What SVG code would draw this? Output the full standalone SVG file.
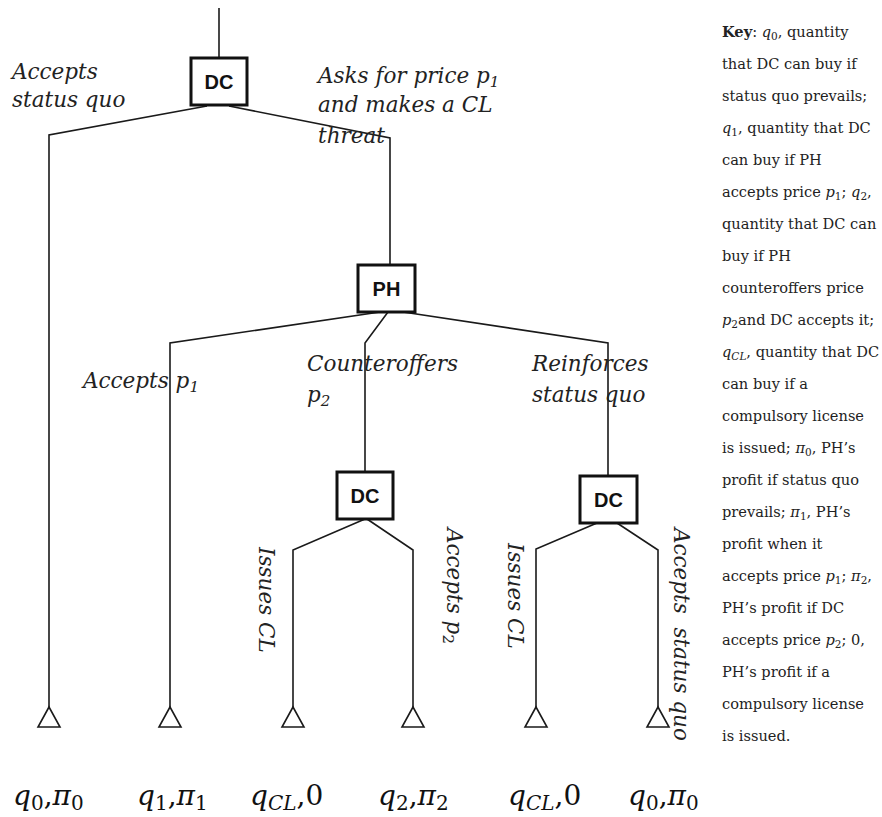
<svg xmlns="http://www.w3.org/2000/svg" width="882" height="817" viewBox="0 0 882 817">
<style>
.ln{fill:none;stroke:#1a1a1a;stroke-width:1.6;stroke-linejoin:miter}
.box{fill:#fff;stroke:#111;stroke-width:3}
.bl{font-family:"Liberation Sans",Arial,sans-serif;font-weight:bold;font-size:20px;fill:#111;text-anchor:middle}
.lab{font-family:"DejaVu Serif",serif;font-style:italic;font-size:21.5px;fill:#222}
.k{font-family:"DejaVu Serif",serif;font-size:14.6px;fill:#222}
.i{font-style:italic}
.s{font-size:10.5px}
.ls{font-size:15px}
.pay{font-family:"DejaVu Serif",serif;font-size:28px;fill:#111}
.ps{font-size:20px}
.tri{fill:#fff;stroke:#1a1a1a;stroke-width:1.6}
</style>
<g id="connectors">
<path class="ln" d="M219,8 V58"/>
<path class="ln" d="M207,106 L49,135 V707"/>
<path class="ln" d="M229,106 L390,138 V265"/>
<path class="ln" d="M380,312 L170,343 V707"/>
<path class="ln" d="M388,312 L365,343 V472"/>
<path class="ln" d="M403,312 L608,343 V475"/>
<path class="ln" d="M365,519 L293,550 V707"/>
<path class="ln" d="M367,519 L413,550 V707"/>
<path class="ln" d="M597,523 L536,549 V707"/>
<path class="ln" d="M617,523 L658,550 V707"/>
</g>
<g id="dc1"><rect class="box" x="191" y="58" width="56" height="47"/><text class="bl" x="219" y="89">DC</text></g>
<g id="ph"><rect class="box" x="358" y="265" width="57" height="47"/><text class="bl" x="386.5" y="296">PH</text></g>
<g id="dc2"><rect class="box" x="337" y="472" width="56" height="47"/><text class="bl" x="365" y="503">DC</text></g>
<g id="dc3"><rect class="box" x="580" y="476" width="57" height="47"/><text class="bl" x="608.5" y="507">DC</text></g>
<g id="leaves">
<polygon class="tri" points="49,707 38,727 60,727"/>
<polygon class="tri" points="170,707 159,727 181,727"/>
<polygon class="tri" points="293,707 282,727 304,727"/>
<polygon class="tri" points="413,707 402,727 424,727"/>
<polygon class="tri" points="536,707 525,727 547,727"/>
<polygon class="tri" points="658,707 647,727 669,727"/>
</g>
<g id="edge-labels" class="lab">
<text x="12" y="79">Accepts</text>
<text x="12" y="107">status quo</text>
<text x="318" y="83">Asks for price p<tspan class="ls" dy="4">1</tspan></text>
<text x="318" y="112">and makes a CL</text>
<text x="318" y="143">threat</text>
<text x="83" y="388">Accepts p<tspan class="ls" dy="4">1</tspan></text>
<text x="307" y="371">Counteroffers</text>
<text x="307" y="402">p<tspan class="ls" dy="4">2</tspan></text>
<text x="532" y="371">Reinforces</text>
<text x="532" y="402">status quo</text>
<text transform="translate(259,547) rotate(90)">Issues CL</text>
<text transform="translate(447,528) rotate(90)">Accepts p<tspan class="ls" dy="4" font-style="normal">2</tspan></text>
<text transform="translate(508,543) rotate(90)">Issues CL</text>
<text transform="translate(674,528) rotate(90)" xml:space="preserve">Accepts  status quo</text>
</g>
<g id="payoffs" class="pay">
<text x="13" y="805"><tspan class="i">q</tspan><tspan class="ps" dy="5">0</tspan><tspan dy="-5">,</tspan><tspan class="i">π</tspan><tspan class="ps" dy="5">0</tspan></text>
<text x="137" y="805"><tspan class="i">q</tspan><tspan class="ps" dy="5">1</tspan><tspan dy="-5">,</tspan><tspan class="i">π</tspan><tspan class="ps" dy="5">1</tspan></text>
<text x="250" y="805"><tspan class="i">q</tspan><tspan class="ps i" dy="5">CL</tspan><tspan dy="-5">,0</tspan></text>
<text x="378" y="805"><tspan class="i">q</tspan><tspan class="ps" dy="5">2</tspan><tspan dy="-5">,</tspan><tspan class="i">π</tspan><tspan class="ps" dy="5">2</tspan></text>
<text x="508" y="805"><tspan class="i">q</tspan><tspan class="ps i" dy="5">CL</tspan><tspan dy="-5">,0</tspan></text>
<text x="628" y="805"><tspan class="i">q</tspan><tspan class="ps" dy="5">0</tspan><tspan dy="-5">,</tspan><tspan class="i">π</tspan><tspan class="ps" dy="5">0</tspan></text>
</g>
<g id="key" class="k">
<text x="722" y="37"><tspan font-weight="bold">Key</tspan>: <tspan class="i">q</tspan><tspan class="s" dy="3">0</tspan><tspan dy="-3">, quantity</tspan></text>
<text x="722" y="69">that DC can buy if</text>
<text x="722" y="101">status quo prevails;</text>
<text x="722" y="133"><tspan class="i">q</tspan><tspan class="s" dy="3">1</tspan><tspan dy="-3">, quantity that DC</tspan></text>
<text x="722" y="165">can buy if PH</text>
<text x="722" y="197">accepts price <tspan class="i">p</tspan><tspan class="s" dy="3">1</tspan><tspan dy="-3">; </tspan><tspan class="i">q</tspan><tspan class="s" dy="3">2</tspan><tspan dy="-3">,</tspan></text>
<text x="722" y="229">quantity that DC can</text>
<text x="722" y="261">buy if PH</text>
<text x="722" y="293">counteroffers price</text>
<text x="722" y="325"><tspan class="i">p</tspan><tspan class="s" dy="3">2</tspan><tspan dy="-3">and DC accepts it;</tspan></text>
<text x="722" y="357"><tspan class="i">q</tspan><tspan class="s i" dy="3">CL</tspan><tspan dy="-3">, quantity that DC</tspan></text>
<text x="722" y="389">can buy if a</text>
<text x="722" y="421">compulsory license</text>
<text x="722" y="453">is issued; <tspan class="i">π</tspan><tspan class="s" dy="3">0</tspan><tspan dy="-3">, PH’s</tspan></text>
<text x="722" y="485">profit if status quo</text>
<text x="722" y="517">prevails; <tspan class="i">π</tspan><tspan class="s" dy="3">1</tspan><tspan dy="-3">, PH’s</tspan></text>
<text x="722" y="549">profit when it</text>
<text x="722" y="581">accepts price <tspan class="i">p</tspan><tspan class="s" dy="3">1</tspan><tspan dy="-3">; </tspan><tspan class="i">π</tspan><tspan class="s" dy="3">2</tspan><tspan dy="-3">,</tspan></text>
<text x="722" y="613">PH’s profit if DC</text>
<text x="722" y="645">accepts price <tspan class="i">p</tspan><tspan class="s" dy="3">2</tspan><tspan dy="-3">; 0,</tspan></text>
<text x="722" y="677">PH’s profit if a</text>
<text x="722" y="709">compulsory license</text>
<text x="722" y="741">is issued.</text>
</g>
</svg>
